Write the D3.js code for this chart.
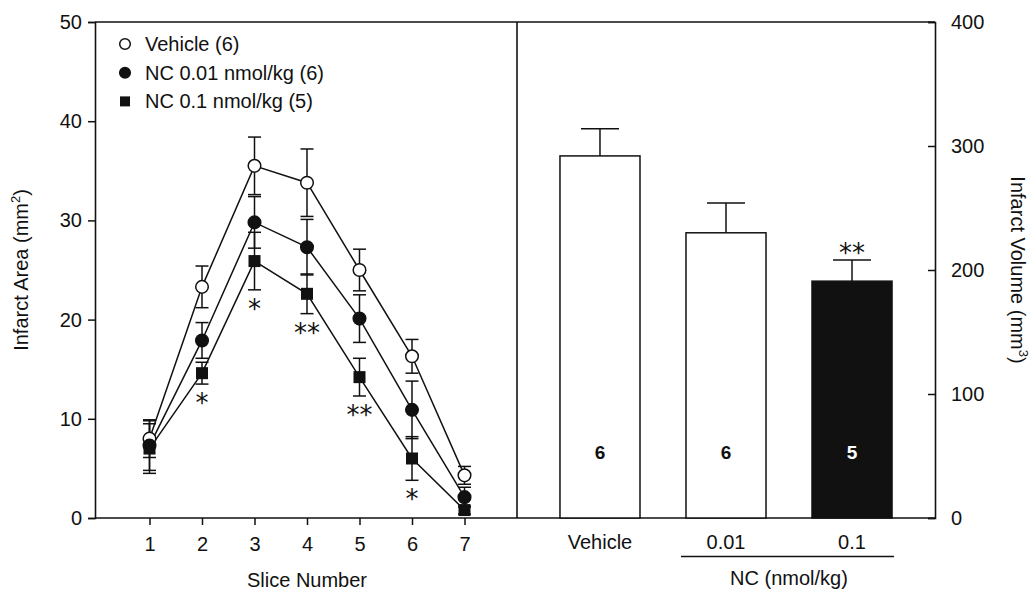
<!DOCTYPE html>
<html>
<head>
    <title>Infarct area and volume</title>
    <script src="https://d3js.org/d3.v7.min.js"></script>
</head>
<style>
    body { margin: 0; background: #fff; }
    text { font-family: "Liberation Sans", Arial, sans-serif; fill: #111; }
    .frame { stroke: #111; stroke-width: 1.6px; fill: none; }
    .series { fill: none; stroke: #111; stroke-width: 1.5px; }
    .err { stroke: #111; stroke-width: 1.5px; }
    .star { font-family: "DejaVu Sans", sans-serif; font-size: 26px; }
</style>
<body>
<script>
    // slice-wise infarct area (mm2), mean and SEM
    let slices = [1, 2, 3, 4, 5, 6, 7];
    let vehicleMean = [8.0, 23.3, 35.5, 33.8, 25.0, 16.3, 4.3];
    let vehicleSE   = [1.9, 2.1, 2.9, 3.4, 2.1, 1.7, 0.9];
    let nc001Mean   = [7.3, 17.9, 29.8, 27.3, 20.1, 10.9, 2.1];
    let nc001SE     = [2.5, 1.8, 2.6, 2.8, 2.4, 2.9, 1.0];
    let nc01Mean    = [7.0, 14.6, 25.9, 22.6, 14.2, 6.0, 0.8];
    let nc01SE      = [2.5, 1.1, 2.9, 2.0, 1.9, 2.2, 0.4];
    let sliceSig    = ["", "*", "*", "**", "**", "*", ""];
    let legendNames = ["Vehicle (6)", "NC 0.01 nmol/kg (6)", "NC 0.1 nmol/kg (5)"];

    // total infarct volume (mm3)
    let groups  = ["Vehicle", "0.01", "0.1"];
    let volume  = [292, 230, 191];
    let volSE   = [22, 24, 17];
    let groupN  = [6, 6, 5];
    let volSig  = ["", "", "**"];

    let areaTicks = [0, 10, 20, 30, 40, 50];
    let volTicks  = [0, 100, 200, 300, 400];

    let svgwidth = 1035, svgheight = 590;
    let pLeft = 95, pMid = 517, pRight = 935, pTop = 22, pBottom = 518;
    let fs = 20;

    let svg = d3.select("body").append("svg")
        .attr("width", svgwidth)
        .attr("height", svgheight);

    // scales
    let x = d3.scaleLinear().domain([0, 8]).range([97, pMid]);
    let y0 = d3.scaleLinear().domain([0, 50]).range([pBottom, pTop]);
    let y1 = d3.scaleLinear().domain([0, 400]).range([pBottom, pTop]);
    let xb = d3.scaleBand().domain(groups).range([pMid, pRight])
        .paddingInner(0.365).paddingOuter(0.341);

    // frame lines
    svg.append("line").attr("class", "frame")
        .attr("x1", pLeft).attr("x2", pRight).attr("y1", pTop).attr("y2", pTop);
    svg.append("line").attr("class", "frame")
        .attr("x1", pMid).attr("x2", pMid).attr("y1", pTop).attr("y2", pBottom);

    // left axis
    let axL = svg.append("g")
        .attr("transform", "translate(" + pLeft + ",0)")
        .call(d3.axisLeft(y0).tickValues(areaTicks).tickSize(7).tickPadding(6));
    // bottom axis (slices)
    let axB = svg.append("g")
        .attr("transform", "translate(0," + pBottom + ")")
        .call(d3.axisBottom(x).tickValues(slices).tickSize(7).tickPadding(12));
    axB.select(".domain").attr("d", "M" + pLeft + ",0H" + pRight);
    // right axis
    let axR = svg.append("g")
        .attr("transform", "translate(" + pRight + ",0)")
        .call(d3.axisRight(y1).tickValues(volTicks).tickSize(-7).tickPadding(16));

    [axL, axB, axR].forEach(function (a) {
        a.selectAll(".domain").attr("stroke", "#111").attr("stroke-width", 1.6);
        a.selectAll(".tick line").attr("stroke", "#111").attr("stroke-width", 1.5);
        a.selectAll(".tick text").attr("font-size", fs).attr("font-family", "Liberation Sans, Arial, sans-serif").attr("fill", "#111");
    });

    // axis titles
    svg.append("text")
        .attr("transform", "translate(28," + (pTop + pBottom) / 2 + ") rotate(-90)")
        .attr("text-anchor", "middle")
        .attr("font-size", fs)
        .text("Infarct Area (mm")
        .append("tspan").attr("font-size", 13).attr("dy", -8).text("2")
        .select(function () { return this.parentNode; })
        .append("tspan").attr("dy", 8).text(")");

    svg.append("text")
        .attr("x", x(4)).attr("y", 587)
        .attr("text-anchor", "middle")
        .attr("font-size", fs)
        .text("Slice Number");

    svg.append("text")
        .attr("transform", "translate(1011," + (pTop + pBottom) / 2 + ") rotate(90)")
        .attr("text-anchor", "middle")
        .attr("font-size", fs)
        .text("Infarct Volume (mm")
        .append("tspan").attr("font-size", 13).attr("dy", -8).text("3")
        .select(function () { return this.parentNode; })
        .append("tspan").attr("dy", 8).text(")");

    // series
    let series = [
        { mean: vehicleMean, se: vehicleSE, shape: "open" },
        { mean: nc001Mean, se: nc001SE, shape: "dot" },
        { mean: nc01Mean, se: nc01SE, shape: "square" }
    ];

    let line = d3.line()
        .x(function (d) { return x(d[0]); })
        .y(function (d) { return y0(d[1]); });

    series.forEach(function (s) {
        let pts = slices.map(function (sl, i) { return [sl, s.mean[i], s.se[i]]; });
        svg.append("path").datum(pts).attr("class", "series").attr("d", line);
        let eb = svg.append("g");
        pts.forEach(function (p) {
            let cx = x(p[0]);
            eb.append("line").attr("class", "err")
                .attr("x1", cx).attr("x2", cx)
                .attr("y1", y0(p[1] - p[2])).attr("y2", y0(p[1] + p[2]));
            [p[1] - p[2], p[1] + p[2]].forEach(function (v) {
                eb.append("line").attr("class", "err")
                    .attr("x1", cx - 6.5).attr("x2", cx + 6.5)
                    .attr("y1", y0(v)).attr("y2", y0(v));
            });
        });
    });

    function marker(g, shape, cx, cy, r) {
        if (shape === "square") {
            g.append("rect").attr("x", cx - r).attr("y", cy - r)
                .attr("width", 2 * r).attr("height", 2 * r).attr("fill", "#111");
        } else {
            g.append("circle").attr("cx", cx).attr("cy", cy).attr("r", r)
                .attr("fill", shape === "open" ? "#fff" : "#111")
                .attr("stroke", "#111").attr("stroke-width", 1.5);
        }
    }

    let marks = svg.append("g");
    series.forEach(function (s) {
        slices.forEach(function (sl, i) {
            marker(marks, s.shape, x(sl), y0(s.mean[i]), s.shape === "square" ? 6 : 6.3);
        });
    });

    // significance marks below NC 0.1 error bars
    slices.forEach(function (sl, i) {
        if (!sliceSig[i]) return;
        svg.append("text").attr("class", "star")
            .attr("x", x(sl)).attr("y", y0(nc01Mean[i] - nc01SE[i]) + 28)
            .attr("text-anchor", "middle")
            .text(sliceSig[i]);
    });

    // legend
    let leg = svg.append("g");
    legendNames.forEach(function (name, i) {
        let ly = 44 + i * 28.7;
        marker(leg, series[i].shape, 125, ly, series[i].shape === "square" ? 5 : 5.3);
        leg.append("text").attr("x", 145).attr("y", ly + 7)
            .attr("font-size", fs).text(name);
    });

    // bars
    groups.forEach(function (g, i) {
        let bx = xb(g), bw = xb.bandwidth(), cx = bx + bw / 2;
        svg.append("line").attr("class", "err")
            .attr("x1", cx).attr("x2", cx)
            .attr("y1", y1(volume[i])).attr("y2", y1(volume[i] + volSE[i]));
        svg.append("line").attr("class", "err")
            .attr("x1", cx - 19).attr("x2", cx + 19)
            .attr("y1", y1(volume[i] + volSE[i])).attr("y2", y1(volume[i] + volSE[i]));
        svg.append("rect")
            .attr("x", bx).attr("y", y1(volume[i]))
            .attr("width", bw).attr("height", y1(0) - y1(volume[i]))
            .attr("fill", i === 2 ? "#111" : "#fff")
            .attr("stroke", "#111").attr("stroke-width", 1.5);
        svg.append("text")
            .attr("x", cx).attr("y", 459)
            .attr("text-anchor", "middle")
            .attr("font-size", 19).attr("font-weight", "bold")
            .style("fill", i === 2 ? "#fff" : "#111")
            .text(groupN[i]);
        svg.append("text")
            .attr("x", cx).attr("y", 549)
            .attr("text-anchor", "middle")
            .attr("font-size", fs)
            .text(g);
        if (volSig[i]) {
            svg.append("text").attr("class", "star")
                .attr("x", cx).attr("y", y1(volume[i] + volSE[i]) + 2)
                .attr("text-anchor", "middle")
                .text(volSig[i]);
        }
    });

    // NC dose bracket
    svg.append("line").attr("class", "frame")
        .attr("x1", xb("0.01") - 5).attr("x2", xb("0.1") + xb.bandwidth() + 2)
        .attr("y1", 556.5).attr("y2", 556.5);
    svg.append("text")
        .attr("x", (xb("0.01") + xb("0.1") + xb.bandwidth()) / 2).attr("y", 585)
        .attr("text-anchor", "middle")
        .attr("font-size", fs)
        .text("NC (nmol/kg)");
</script>
</body>
</html>
